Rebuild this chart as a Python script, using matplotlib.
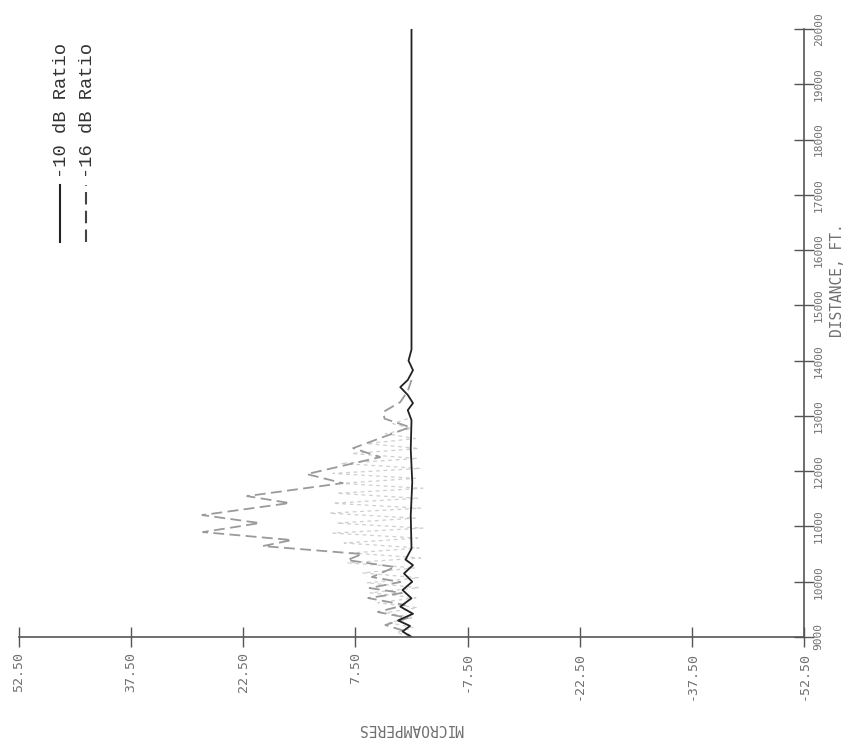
import matplotlib
matplotlib.use("Agg")
import matplotlib.pyplot as plt
from matplotlib.lines import Line2D

# distance (ft) and current (microamperes)
dist_db10 = [20000, 14200, 14000, 13827, 13650, 13520, 13380, 13231,
             13104, 12923, 12400, 11800, 11200, 10600, 10400, 10300, 10150, 10000,
             9850, 9700, 9550, 9420, 9300, 9200, 9100, 9000]
amp_db10 = [0.0, 0.0, 0.4, -0.2, 0.5, 1.5, 0.5, -0.2,
            0.5, 0.0, 0.1, -0.1, 0.1, 0.0, 0.8, -0.2, 1.0, -0.1,
            1.2, 0.0, 1.5, -0.2, 1.8, 0.2, 1.2, 0.0]

dist_db16 = [13650, 13450, 13250, 13070, 12950, 12797, 12417, 12254, 11947, 11784,
             11549, 11423, 11206, 11061, 10898, 10754, 10645, 10500, 10392, 10266,
             10085, 9994, 9886, 9796, 9705, 9579, 9452, 9344, 9217, 9108, 9000]
amp_db16 = [0.0, 0.5, 1.5, 3.8, 3.6, 0.2, 7.8, 4.2, 14.0, 9.2,
            22.0, 16.3, 28.0, 20.3, 27.9, 16.0, 19.9, 6.6, 8.6, 2.2,
            5.3, 1.5, 5.6, 1.3, 5.8, 0.9, 4.5, 0.5, 3.5, 0.9, 0.0]

# faint fast ripple printed with the -16 dB pen
dist_ripple = [12950, 12860, 12770, 12680, 12590, 12500, 12410, 12320, 12230, 12140,
               12050, 11960, 11870, 11780, 11690, 11600, 11510, 11420, 11330, 11240,
               11150, 11060, 10970, 10880, 10790, 10700, 10610, 10520, 10430, 10340,
               10250, 10160, 10070, 9980, 9890, 9800, 9710, 9620, 9530, 9440,
               9350, 9260, 9170, 9080, 9000]
amp_ripple = [0.5, 2.5, 0.0, 3.5, -0.5, 6.0, -1.0, 8.0, -0.8, 9.5,
              -1.2, 10.5, -0.5, 9.5, -1.5, 10.0, -0.8, 10.5, -1.2, 11.0,
              -0.5, 10.0, -1.5, 10.5, -0.8, 9.0, -1.0, 8.0, -1.2, 8.5,
              -0.5, 6.5, -1.0, 6.0, -1.0, 5.5, -0.6, 4.5, -0.8, 3.5,
              -0.3, 3.0, -0.2, 2.0, 0.0]

amp_ticks = [52.5, 37.5, 22.5, 7.5, -7.5, -22.5, -37.5, -52.5]
dist_ticks = list(range(9000, 20001, 1000))
legend_labels = ["-10 dB Ratio", "-16 dB Ratio"]

axis_grey = "#555555"
text_grey = "#707070"
plot_font = "DejaVu Sans Mono"
legend_font = "Liberation Mono"

fig = plt.figure(figsize=(8.48, 7.48), dpi=100)
ax = fig.add_axes([19 / 848, 1 - 637 / 748, (804 - 19) / 848, (637 - 29) / 748])

ax.plot(amp_ripple, dist_ripple, color="#cfcfcf", lw=0.9, dashes=(3, 3))
ax.plot(amp_db16, dist_db16, color="#9a9a9a", lw=1.3, dashes=(6, 3))
ax.plot(amp_db10, dist_db10, color="#222222", lw=1.3)

ax.set_xlim(52.5, -52.5)
ax.set_ylim(9000, 20000)

for side in ["top", "left"]:
    ax.spines[side].set_visible(False)
for side in ["bottom", "right"]:
    ax.spines[side].set_color(axis_grey)
    ax.spines[side].set_linewidth(1.2)

ax.xaxis.set_ticks_position("bottom")
ax.yaxis.set_ticks_position("right")
ax.set_xticks(amp_ticks)
ax.set_xticklabels([f"{v:.2f}" for v in amp_ticks], rotation=90,
                   fontsize=9.5, family=plot_font, color=text_grey)
ax.set_yticks(dist_ticks)
ax.set_yticklabels([str(v) for v in dist_ticks], rotation=90, va="center",
                   fontsize=8, family=plot_font, color=text_grey)
ax.tick_params(axis="both", direction="inout", length=14, width=1.0,
               colors=axis_grey, labelcolor=text_grey)
ax.tick_params(axis="x", pad=4)
ax.tick_params(axis="y", pad=0)

fig.text(411 / 848, 1 - 728 / 748, "MICROAMPERES", rotation=180, ha="center",
         va="center", fontsize=10.5, family=plot_font, color=text_grey)
fig.text(838 / 848, 1 - 280 / 748, "DISTANCE, FT.", rotation=90, ha="center",
         va="center", fontsize=10.5, family=plot_font, color=text_grey)

# hand-drawn legend, rotated like the rest of the sheet
legend_x = [60 / 848, 86 / 848]
legend_styles = [dict(color="#222222", lw=1.5), dict(color="#444444", lw=1.5, dashes=(6, 3))]
for lx, label, style in zip(legend_x, legend_labels, legend_styles):
    fig.add_artist(Line2D([lx, lx], [1 - 242 / 748, 1 - 185 / 748],
                          transform=fig.transFigure, **style))
    fig.text(lx + 2 / 848, 1 - 178 / 748, label, rotation=90, ha="center", va="bottom",
             fontsize=13.5, family=legend_font, color="#333333")

fig.savefig("out.png", dpi=100)
